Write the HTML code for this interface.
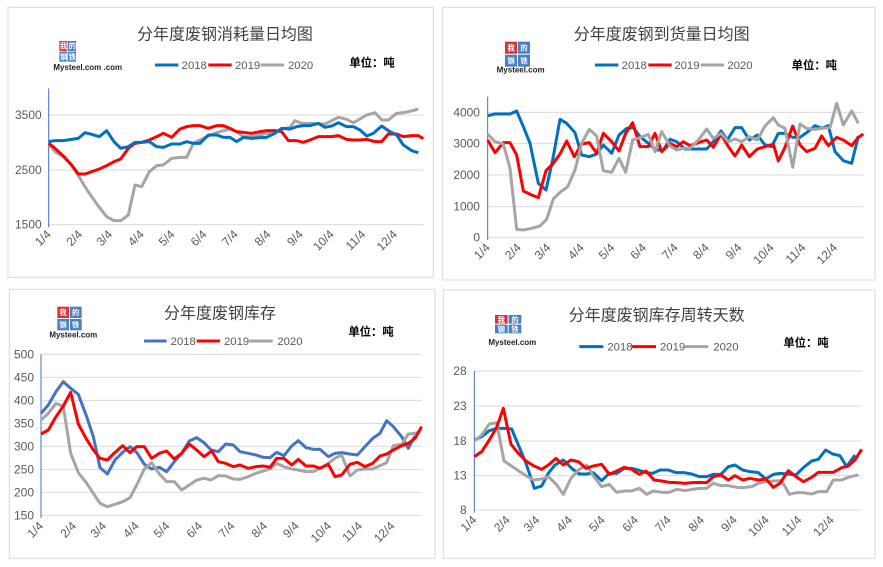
<!DOCTYPE html>
<html><head><meta charset="utf-8"><style>
html,body{margin:0;padding:0;background:#fff;}
svg{display:block;font-family:"Liberation Sans","Noto Sans CJK SC",sans-serif;}
.t{font-size:48px;fill:#404040;text-anchor:middle;}
.lg{font-size:34px;fill:#595959;}
.un{font-size:34px;fill:#000;font-weight:bold;}
.yl{font-size:36px;fill:#595959;text-anchor:end;}
.ml{font-size:36px;fill:#595959;text-anchor:end;}
.g{stroke:#d9d9d9;stroke-width:3;}
.ax{stroke:#4472c4;stroke-width:3;}
.b{fill:none;stroke:#0070c0;stroke-width:9;stroke-linejoin:round;}
.r{fill:none;stroke:#ff0000;stroke-width:9;stroke-linejoin:round;}
.s{fill:none;stroke:#a5a5a5;stroke-width:9;stroke-linejoin:round;}
.fr{fill:none;stroke:#d9d9d9;stroke-width:3;}
.lo{font-size:22px;fill:#fff;font-weight:bold;}
.ms{font-size:24px;fill:#222;font-weight:bold;}
</style></head><body>
<svg width="883" height="567" viewBox="0 0 883 567">
<rect width="883" height="567" fill="#fff"/>

<!-- Panel 1 -->
<g transform="scale(0.33333)">
<rect class="fr" x="24" y="22" width="1276" height="810"/>
<text class="t" x="675" y="118">分年度废钢消耗量日均图</text>
<rect x="178" y="123" width="24" height="30" fill="#e03030"/><rect x="204" y="123" width="24" height="30" fill="#4a7fc0"/>
<rect x="178" y="155" width="24" height="30" fill="#4a7fc0"/><rect x="204" y="155" width="24" height="30" fill="#4a7fc0"/>
<text class="lo" x="180" y="146">我</text><text class="lo" x="206" y="146">的</text><text class="lo" x="180" y="178">钢</text><text class="lo" x="206" y="178">铁</text>
<text class="ms" x="160" y="210">Mysteel.com .com</text>
<line x1="465" y1="195" x2="535" y2="195" class="b"/><text class="lg" x="545" y="207">2018</text>
<line x1="625" y1="195" x2="695" y2="195" class="r"/><text class="lg" x="705" y="207">2019</text>
<line x1="782" y1="195" x2="852" y2="195" class="s"/><text class="lg" x="864" y="207">2020</text>
<text class="un" x="1048" y="200">单位：吨</text>
<line class="g" x1="146" y1="345" x2="1270" y2="345"/><line class="g" x1="146" y1="510" x2="1270" y2="510"/><line class="g" x1="146" y1="674" x2="1270" y2="674"/>
<line class="ax" x1="146" y1="265" x2="146" y2="682"/>
<text class="yl" x="125" y="357">3500</text><text class="yl" x="125" y="522">2500</text><text class="yl" x="125" y="686">1500</text>
<g class="ml">
<text transform="translate(155,705) rotate(-45)">1/4</text><text transform="translate(249,705) rotate(-45)">2/4</text><text transform="translate(339,705) rotate(-45)">3/4</text><text transform="translate(434,705) rotate(-45)">4/4</text><text transform="translate(526,705) rotate(-45)">5/4</text><text transform="translate(622,705) rotate(-45)">6/4</text><text transform="translate(716,705) rotate(-45)">7/4</text><text transform="translate(814,705) rotate(-45)">8/4</text><text transform="translate(911,705) rotate(-45)">9/4</text><text transform="translate(1004,705) rotate(-45)">10/4</text><text transform="translate(1099,705) rotate(-45)">11/4</text><text transform="translate(1194,705) rotate(-45)">12/4</text>
</g>
<polyline class="s" points="146,432 165,455 190,470 215,497 235,527 255,560 275,590 298,622 320,650 342,662 362,662 385,645 405,555 425,560 448,515 470,497 490,495 515,475 540,472 560,472 580,430 600,420 625,408 650,398 670,392 690,387 710,395 730,410 755,410 780,405 800,400 825,397 845,387 870,382 885,362 905,370 930,370 955,372 975,372 995,362 1015,352 1040,358 1060,368 1080,357 1100,345 1125,338 1145,360 1165,360 1190,340 1210,338 1235,333 1255,327"/>
<polyline class="r" points="146,430 165,445 190,468 215,495 235,522 255,522 275,515 298,507 320,497 342,485 362,477 385,445 405,430 425,427 448,420 470,410 490,400 515,412 540,387 560,380 580,377 600,377 625,385 650,377 670,377 690,385 710,395 730,397 755,400 780,395 800,392 825,392 845,395 865,422 890,422 910,427 930,420 955,410 975,410 995,410 1015,407 1040,418 1060,420 1080,420 1100,418 1125,425 1145,425 1165,402 1190,402 1210,410 1235,407 1255,407 1270,416"/>
<polyline class="b" points="146,425 165,422 190,422 215,418 235,415 255,398 275,403 298,410 320,392 342,425 362,445 385,440 405,427 425,427 448,425 470,440 490,442 515,432 540,432 560,425 580,430 600,430 625,405 650,405 670,412 690,412 710,425 730,412 755,415 780,413 800,412 825,400 845,385 870,387 890,380 910,377 930,377 955,370 975,382 995,378 1015,368 1040,380 1060,380 1080,390 1100,408 1120,400 1145,378 1165,392 1190,405 1210,435 1235,452 1255,458"/>
</g>

<!-- Panel 2 -->
<g transform="translate(440,0) scale(0.33333)">
<rect class="fr" x="8" y="22" width="1297" height="818"/>
<text class="t" x="665" y="118">分年度废钢到货量日均图</text>
<rect x="195" y="125" width="36" height="36" fill="#e03030"/><rect x="234" y="125" width="36" height="36" fill="#4a7fc0"/>
<rect x="195" y="164" width="36" height="36" fill="#4a7fc0"/><rect x="234" y="164" width="36" height="36" fill="#4a7fc0"/>
<text class="lo" x="202" y="152">我</text><text class="lo" x="241" y="152">的</text><text class="lo" x="202" y="191">钢</text><text class="lo" x="241" y="191">铁</text>
<text class="ms" x="170" y="218">Mysteel.com</text>
<line x1="465" y1="195" x2="535" y2="195" class="b"/><text class="lg" x="545" y="207">2018</text>
<line x1="625" y1="195" x2="695" y2="195" class="r"/><text class="lg" x="703" y="207">2019</text>
<line x1="782" y1="195" x2="852" y2="195" class="s"/><text class="lg" x="862" y="207">2020</text>
<text class="un" x="1055" y="207">单位：吨</text>
<line class="g" x1="143" y1="337" x2="1270" y2="337"/><line class="g" x1="143" y1="430" x2="1270" y2="430"/><line class="g" x1="143" y1="525" x2="1270" y2="525"/><line class="g" x1="143" y1="620" x2="1270" y2="620"/><line class="g" x1="143" y1="712" x2="1270" y2="712"/>
<line class="ax" x1="143" y1="290" x2="143" y2="720"/>
<text class="yl" x="120" y="349">4000</text><text class="yl" x="120" y="442">3000</text><text class="yl" x="120" y="537">2000</text><text class="yl" x="120" y="632">1000</text><text class="yl" x="120" y="724">0</text>
<g class="ml">
<text transform="translate(152,745) rotate(-45)">1/4</text><text transform="translate(245,745) rotate(-45)">2/4</text><text transform="translate(334,745) rotate(-45)">3/4</text><text transform="translate(434,745) rotate(-45)">4/4</text><text transform="translate(526,745) rotate(-45)">5/4</text><text transform="translate(621,745) rotate(-45)">6/4</text><text transform="translate(716,745) rotate(-45)">7/4</text><text transform="translate(809,745) rotate(-45)">8/4</text><text transform="translate(907,745) rotate(-45)">9/4</text><text transform="translate(1004,745) rotate(-45)">10/4</text><text transform="translate(1099,745) rotate(-45)">11/4</text><text transform="translate(1194,745) rotate(-45)">12/4</text>
</g>
<polyline class="b" points="143,347 165,342 190,342 210,342 230,333 250,380 270,430 295,550 318,570 338,480 360,358 380,370 405,398 425,465 448,470 470,462 490,435 515,460 537,405 560,385 580,383 600,410 625,430 648,450 670,450 690,418 710,425 735,447 760,447 780,447 800,447 820,425 843,393 862,420 885,383 905,383 928,420 952,405 975,435 995,440 1015,400 1035,400 1058,412 1080,412 1100,398 1125,377 1145,385 1165,377 1185,455 1210,482 1235,490 1255,408"/>
<polyline class="r" points="143,420 165,458 190,428 210,428 230,465 250,573 275,585 295,593 318,512 340,490 360,462 380,423 403,470 425,432 448,428 470,460 490,400 515,425 537,453 557,400 578,368 600,440 625,440 645,400 665,455 690,430 710,440 730,425 750,437 775,428 800,420 820,442 843,402 865,440 885,468 905,435 928,470 952,447 975,440 1000,433 1015,483 1035,442 1058,378 1080,435 1100,455 1125,445 1145,408 1165,437 1190,412 1210,420 1235,437 1255,412 1270,402"/>
<polyline class="s" points="143,402 165,425 190,432 210,505 230,688 250,690 275,685 300,678 320,658 340,597 360,577 383,560 405,510 425,430 448,388 470,408 490,512 515,517 537,475 557,517 578,420 600,413 625,403 645,455 665,395 690,438 710,450 730,445 750,445 775,420 800,387 820,415 843,400 865,425 885,417 905,425 928,410 952,420 975,378 1000,353 1015,375 1035,385 1058,502 1080,372 1100,385 1125,388 1145,385 1170,383 1190,310 1210,375 1235,333 1255,370"/>
</g>

<!-- Panel 3 -->
<g transform="translate(0,280) scale(0.33333)">
<rect class="fr" x="28" y="28" width="1277" height="807"/>
<text class="t" x="660" y="115">分年度废钢库存</text>
<rect x="172" y="80" width="35" height="34" fill="#e03030"/><rect x="210" y="80" width="35" height="34" fill="#4a7fc0"/>
<rect x="172" y="117" width="35" height="34" fill="#4a7fc0"/><rect x="210" y="117" width="35" height="34" fill="#4a7fc0"/>
<text class="lo" x="178" y="105">我</text><text class="lo" x="216" y="105">的</text><text class="lo" x="178" y="142">钢</text><text class="lo" x="216" y="142">铁</text>
<text class="ms" x="148" y="173">Mysteel.com</text>
<line x1="432" y1="183" x2="500" y2="183" class="b" style="stroke:#4472c4"/><text class="lg" x="512" y="195">2018</text>
<line x1="590" y1="183" x2="660" y2="183" class="r"/><text class="lg" x="672" y="195">2019</text>
<line x1="748" y1="183" x2="818" y2="183" class="s"/><text class="lg" x="832" y="195">2020</text>
<text class="un" x="1045" y="167">单位：吨</text>
<g class="g"><line x1="123" y1="223" x2="1265" y2="223"/><line x1="123" y1="292" x2="1265" y2="292"/><line x1="123" y1="361" x2="1265" y2="361"/><line x1="123" y1="430" x2="1265" y2="430"/><line x1="123" y1="499" x2="1265" y2="499"/><line x1="123" y1="568" x2="1265" y2="568"/><line x1="123" y1="637" x2="1265" y2="637"/><line x1="123" y1="706" x2="1265" y2="706"/></g>
<line class="ax" x1="123" y1="223" x2="123" y2="714"/>
<text class="yl" x="102" y="235">500</text><text class="yl" x="102" y="304">450</text><text class="yl" x="102" y="373">400</text><text class="yl" x="102" y="442">350</text><text class="yl" x="102" y="511">300</text><text class="yl" x="102" y="580">250</text><text class="yl" x="102" y="649">200</text><text class="yl" x="102" y="718">150</text>
<g class="ml">
<text transform="translate(132,740) rotate(-45)">1/4</text><text transform="translate(231,740) rotate(-45)">2/4</text><text transform="translate(321,740) rotate(-45)">3/4</text><text transform="translate(419,740) rotate(-45)">4/4</text><text transform="translate(511,740) rotate(-45)">5/4</text><text transform="translate(609,740) rotate(-45)">6/4</text><text transform="translate(706,740) rotate(-45)">7/4</text><text transform="translate(804,740) rotate(-45)">8/4</text><text transform="translate(899,740) rotate(-45)">9/4</text><text transform="translate(996,740) rotate(-45)">10/4</text><text transform="translate(1089,740) rotate(-45)">11/4</text><text transform="translate(1186,740) rotate(-45)">12/4</text>
</g>
<polyline class="b" style="stroke:#4472c4" points="123,400 145,375 168,335 190,305 212,325 235,343 260,410 280,470 300,563 322,582 345,540 368,517 390,500 410,517 433,553 455,567 478,562 500,575 523,545 545,520 568,483 590,473 612,488 633,510 655,515 677,492 700,495 720,515 745,520 768,525 790,532 810,533 830,517 852,527 875,498 895,482 918,503 940,508 960,508 985,530 1005,520 1025,518 1050,522 1072,525 1095,500 1118,475 1140,460 1160,422 1180,440 1205,470 1225,505 1245,468"/>
<polyline class="s" points="123,420 145,400 168,370 190,380 212,520 235,578 258,607 280,640 300,670 322,680 345,673 368,665 390,653 410,615 433,567 455,548 478,582 500,605 523,605 545,630 568,615 590,600 612,595 633,600 655,587 677,588 700,597 720,598 745,590 768,580 790,573 810,567 830,550 852,560 875,567 895,570 918,575 940,575 960,565 985,550 1005,535 1025,525 1050,588 1072,570 1095,567 1118,567 1140,557 1160,548 1180,497 1205,493 1225,462 1245,460 1260,455"/>
<polyline class="r" points="123,462 145,450 168,410 190,378 212,337 235,432 258,475 280,510 300,535 322,540 345,517 368,497 390,518 410,500 433,500 455,535 478,520 500,513 523,537 545,520 568,492 590,510 612,530 635,513 655,545 677,550 700,560 720,555 745,565 768,560 790,558 810,562 830,535 852,535 875,555 895,538 918,558 940,558 960,565 985,553 1005,590 1025,585 1050,553 1072,547 1095,560 1118,550 1140,528 1160,522 1180,510 1205,497 1225,490 1245,475 1265,440"/>
</g>

<!-- Panel 4 -->
<g transform="translate(440,280) scale(0.33333)">
<rect class="fr" x="10" y="30" width="1295" height="805"/>
<text class="t" x="650" y="122">分年度废钢库存周转天数</text>
<rect x="165" y="105" width="38" height="26" fill="#e03030"/><rect x="206" y="105" width="38" height="26" fill="#4a7fc0"/>
<rect x="165" y="134" width="38" height="26" fill="#4a7fc0"/><rect x="206" y="134" width="38" height="26" fill="#4a7fc0"/>
<text class="lo" x="173" y="127">我</text><text class="lo" x="214" y="127">的</text><text class="lo" x="173" y="156">钢</text><text class="lo" x="214" y="156">铁</text>
<text class="ms" x="145" y="195">Mysteel.com</text>
<line x1="418" y1="200" x2="490" y2="200" class="b"/><text class="lg" x="502" y="212">2018</text>
<line x1="575" y1="200" x2="648" y2="200" class="r"/><text class="lg" x="660" y="212">2019</text>
<line x1="735" y1="200" x2="805" y2="200" class="s"/><text class="lg" x="820" y="212">2020</text>
<text class="un" x="1030" y="199">单位：吨</text>
<g class="g"><line x1="103" y1="273" x2="1265" y2="273"/><line x1="103" y1="378" x2="1265" y2="378"/><line x1="103" y1="483" x2="1265" y2="483"/><line x1="103" y1="587" x2="1265" y2="587"/><line x1="103" y1="690" x2="1265" y2="690"/></g>
<line class="ax" x1="103" y1="273" x2="103" y2="698"/>
<text class="yl" x="80" y="285">28</text><text class="yl" x="80" y="390">23</text><text class="yl" x="80" y="495">18</text><text class="yl" x="80" y="599">13</text><text class="yl" x="80" y="702">8</text>
<g class="ml">
<text transform="translate(112,722) rotate(-45)">1/4</text><text transform="translate(212,722) rotate(-45)">2/4</text><text transform="translate(301,722) rotate(-45)">3/4</text><text transform="translate(399,722) rotate(-45)">4/4</text><text transform="translate(497,722) rotate(-45)">5/4</text><text transform="translate(597,722) rotate(-45)">6/4</text><text transform="translate(695,722) rotate(-45)">7/4</text><text transform="translate(795,722) rotate(-45)">8/4</text><text transform="translate(893,722) rotate(-45)">9/4</text><text transform="translate(989,722) rotate(-45)">10/4</text><text transform="translate(1087,722) rotate(-45)">11/4</text><text transform="translate(1184,722) rotate(-45)">12/4</text>
</g>
<polyline class="b" points="103,480 125,470 148,452 170,445 192,445 215,447 235,495 258,550 283,625 305,618 325,580 345,555 370,540 395,565 418,582 440,582 460,578 485,602 508,580 530,580 553,565 575,565 595,570 618,578 638,580 660,570 685,570 708,578 733,578 755,582 778,590 800,590 820,583 843,583 865,560 885,555 908,570 930,575 955,578 978,597 1000,583 1020,580 1045,582 1068,585 1090,563 1115,543 1135,538 1157,510 1178,522 1200,527 1220,560 1245,525"/>
<polyline class="s" points="103,483 125,465 148,432 170,428 192,543 213,557 235,572 258,587 280,600 305,597 325,590 348,612 370,643 393,595 415,570 440,555 460,588 485,620 508,613 530,637 553,633 575,633 598,625 620,643 640,633 665,637 688,637 710,628 735,632 757,628 778,625 800,625 820,610 843,617 865,617 890,622 910,623 935,620 955,610 978,605 1000,603 1025,602 1048,643 1070,638 1090,638 1115,642 1135,635 1160,635 1180,600 1205,600 1225,592 1245,587 1255,585"/>
<polyline class="r" points="103,530 125,515 148,480 170,442 190,385 213,493 235,520 258,543 280,557 305,568 325,555 348,535 370,555 393,540 415,545 438,565 460,558 485,553 508,583 530,573 553,562 575,568 598,583 618,573 642,600 665,603 688,607 710,608 735,610 757,608 778,607 800,608 820,590 843,585 865,600 885,587 908,600 930,595 955,600 978,597 1000,622 1020,610 1045,572 1068,590 1090,605 1115,592 1135,577 1160,577 1180,577 1205,563 1225,558 1245,540 1265,508"/>
</g>
</svg>
</body></html>
